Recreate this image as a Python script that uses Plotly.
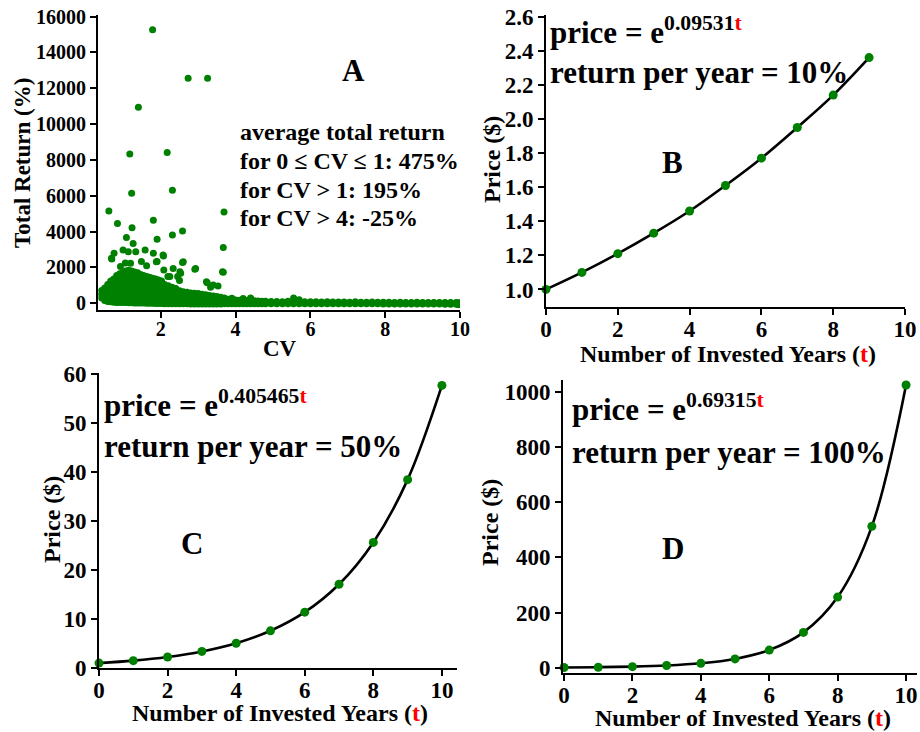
import plotly.graph_objects as go

W, H = 920, 732
GREEN = '#008000'
FONT = 'Liberation Serif'

# ---------------- Panel A data (CV vs Total Return %) ----------------
outlier_cv = [1.78, 2.73, 3.25, 1.40, 1.17, 2.17, 1.22, 2.31, 0.61, 3.69,
              0.84, 1.80, 1.23, 2.58, 1.08, 1.90, 2.31, 1.26, 1.58, 3.67,
              0.75, 1.80, 2.07, 0.69, 1.48, 1.90, 2.58, 2.93, 2.33, 3.67,
              2.53, 2.08, 2.19, 2.50, 3.24, 3.53, 3.33, 1.19, 0.99, 0.92,
              1.33, 0.68, 1.13, 2.06, 2.24, 2.51, 2.60, 3.22, 3.40, 3.65,
              1.88, 2.91, 1.05, 1.62, 2.45]
outlier_ret = [15260, 12560, 12560, 10940, 8330, 8410, 6140, 6310, 5150, 5100,
               4450, 4630, 4210, 4040, 3670, 3570, 3810, 3330, 2980, 3110,
               2790, 2790, 2640, 2470, 2330, 2330, 2270, 1940, 1940, 1730,
               1670, 1860, 1490, 1270, 1150, 970, 890, 2230, 2980, 2050,
               2880, 2510, 2880, 2700, 1490, 1765, 2320, 1205, 1020, 1765,
               2320, 1900, 2250, 2100, 1500]

dense_col_cv = [0.42, 0.50, 0.58, 0.66, 0.74, 0.82, 0.90, 0.98, 1.06, 1.14,
                1.22, 1.30, 1.38, 1.46, 1.54, 1.62, 1.70, 1.78, 1.86, 1.94,
                2.02, 2.10, 2.20, 2.30, 2.40, 2.50, 2.60, 2.70, 2.80, 2.90,
                3.00, 3.10, 3.20, 3.30, 3.40, 3.50, 3.60, 3.70, 3.80, 3.90,
                4.00, 4.10, 4.20, 4.30, 4.40, 4.50, 4.60, 4.70]
dense_col_ret = [
    [300, 500, 720],
    [150, 400, 650, 850],
    [100, 350, 600, 850, 1050],
    [80, 330, 580, 830, 1080, 1250],
    [60, 300, 560, 820, 1080, 1350],
    [50, 300, 560, 820, 1080, 1350, 1550],
    [50, 300, 560, 820, 1080, 1350, 1650],
    [40, 290, 550, 810, 1070, 1330, 1700],
    [40, 290, 550, 810, 1070, 1330, 1600, 1800],
    [30, 280, 540, 800, 1060, 1320, 1580, 1850],
    [30, 280, 540, 800, 1060, 1320, 1580, 1800],
    [20, 270, 530, 790, 1050, 1300, 1550, 1750],
    [20, 270, 530, 790, 1050, 1300, 1550, 1700],
    [10, 260, 520, 780, 1040, 1300, 1600],
    [10, 260, 520, 780, 1040, 1300, 1550],
    [0, 250, 510, 770, 1030, 1280, 1500],
    [0, 250, 500, 760, 1020, 1250, 1450],
    [0, 240, 490, 740, 1000, 1220, 1400],
    [-10, 230, 480, 720, 960, 1200, 1350],
    [-10, 220, 460, 700, 940, 1150, 1300],
    [-10, 210, 440, 670, 900, 1100, 1250],
    [-20, 200, 420, 640, 860, 1050],
    [-20, 190, 400, 610, 820, 980],
    [-20, 180, 380, 580, 780, 900],
    [-30, 170, 360, 550, 720, 820],
    [-30, 160, 340, 520, 700],
    [-30, 150, 320, 490, 650],
    [-30, 140, 300, 460, 620],
    [-40, 130, 290, 440, 580],
    [-40, 120, 280, 420, 560],
    [-40, 110, 260, 400, 540],
    [-40, 100, 240, 380, 500],
    [-40, 90, 220, 350, 470],
    [-40, 80, 200, 330, 440],
    [-40, 70, 190, 310, 400],
    [-40, 60, 180, 290, 380],
    [-40, 50, 160, 260, 340],
    [-30, 50, 150, 240, 300],
    [-30, 40, 130, 220],
    [-30, 40, 120, 200, 280],
    [-30, 30, 110, 180],
    [-30, 30, 100, 170],
    [-30, 30, 100, 160, 260],
    [-20, 30, 90, 150],
    [-20, 30, 90, 150, 300],
    [-20, 30, 80, 140],
    [-20, 30, 80, 130],
    [-20, 30, 70, 120],
]

tail_col_cv = [4.80, 4.95, 5.10, 5.25, 5.40, 5.55, 5.70, 5.85, 6.00, 6.15,
               6.30, 6.45, 6.60, 6.75, 6.90, 7.05, 7.20, 7.35, 7.50, 7.65,
               7.80, 7.95, 8.10, 8.25, 8.40, 8.55, 8.70, 8.85, 9.00, 9.15,
               9.30, 9.45, 9.60, 9.75, 9.90, 9.97]
tail_col_ret = [
    [-20, 60, 110], [-20, 60, 100], [-20, 50, 100], [-20, 50, 90], [-20, 50, 120],
    [-20, 60, 300], [-20, 50, 200], [-20, 50, 90], [-20, 40, 80], [-30, 40, 80],
    [-30, 40, 70], [-30, 40, 80], [-30, 40, 70], [-30, 30, 70], [-30, 40, 70],
    [-30, 30, 60], [-30, 30, 90], [-30, 30, 60], [-30, 30, 60], [-30, 30, 70],
    [-30, 30, 60], [-40, 30, 60], [-40, 20, 60], [-40, 20, 50], [-40, 20, 60],
    [-40, 20, 50], [-40, 20, 50], [-40, 20, 60], [-40, 20, 50], [-40, 20, 50],
    [-40, 10, 50], [-40, 10, 50], [-50, 10, 40], [-50, 10, 40], [-60, 0, 40],
    [-80, -20, 30],
]

# ---------------- Panels B, C, D data ----------------
years_b = [0, 1, 2, 3, 4, 5, 6, 7, 8, 9]
price_b = [1.00, 1.10, 1.21, 1.33, 1.46, 1.61, 1.77, 1.95, 2.14, 2.36]
years_c = [0, 1, 2, 3, 4, 5, 6, 7, 8, 9, 10]
price_c = [1.0, 1.5, 2.25, 3.38, 5.06, 7.59, 11.39, 17.09, 25.63, 38.44, 57.67]
years_d = [0, 1, 2, 3, 4, 5, 6, 7, 8, 9, 10]
price_d = [1, 2, 4, 8, 16, 32, 64, 128, 256, 512, 1024]

ticks_a_x = [2, 4, 6, 8, 10]
ticks_a_y = [0, 2000, 4000, 6000, 8000, 10000, 12000, 14000, 16000]
ticks_b_y = [1.0, 1.2, 1.4, 1.6, 1.8, 2.0, 2.2, 2.4, 2.6]
ticks_years = [0, 2, 4, 6, 8, 10]
ticks_c_y = [0, 10, 20, 30, 40, 50, 60]
ticks_d_y = [0, 200, 400, 600, 800, 1000]

# ---------------- build ----------------
def px(x):
    return x / W

def py(y):
    return 1 - y / H

a_x, a_y = [], []
for c, rets in zip(dense_col_cv, dense_col_ret):
    for r in rets:
        a_x.append(c)
        a_y.append(r)
for c, rets in zip(tail_col_cv, tail_col_ret):
    for r in rets:
        a_x.append(c)
        a_y.append(r)
a_x += outlier_cv
a_y += outlier_ret

fig = go.Figure()
fig.add_trace(go.Scatter(x=a_x, y=a_y, mode='markers', xaxis='x', yaxis='y',
                         marker=dict(size=7, color=GREEN, line=dict(width=0)),
                         showlegend=False, hoverinfo='skip'))
for xs, ys, xa, ya in [(years_b, price_b, 'x2', 'y2'),
                       (years_c, price_c, 'x3', 'y3'),
                       (years_d, price_d, 'x4', 'y4')]:
    fig.add_trace(go.Scatter(x=xs, y=ys, mode='lines+markers', xaxis=xa, yaxis=ya,
                             line=dict(color='black', width=2.6, shape='spline', smoothing=1),
                             marker=dict(size=9, color=GREEN, line=dict(width=0)),
                             cliponaxis=False, showlegend=False, hoverinfo='skip'))


def ax(domain, rng, tickvals, anchor, size, fmt=None, standoff=0):
    d = dict(domain=domain, range=rng, tickvals=tickvals, anchor=anchor,
             automargin=False,
             showline=True, linecolor='black', linewidth=2,
             ticks='outside', ticklen=6, tickwidth=2, tickcolor='black',
             ticklabelstandoff=standoff,
             showgrid=False, zeroline=False,
             tickfont=dict(family=FONT, size=size, color='black', weight='bold'))
    if fmt:
        d['tickformat'] = fmt
    return d

fig.update_layout(
    template='none',
    width=W, height=H, autosize=False,
    margin=dict(l=0, r=0, t=0, b=0, pad=0),
    paper_bgcolor='white', plot_bgcolor='white',
    font=dict(family=FONT, color='black'),
    xaxis=ax([px(98), px(460)], [0.32, 10.0], ticks_a_x, 'y', 20, standoff=-6),
    yaxis=ax([py(310), py(15)], [-375, 16090], ticks_a_y, 'x', 20, 'd'),
    xaxis2=ax([px(546), px(905)], [0, 10], ticks_years, 'y2', 23, standoff=-6),
    yaxis2=ax([py(307), py(15)], [0.897, 2.61], ticks_b_y, 'x2', 23, '.1f'),
    xaxis3=ax([px(99), px(457)], [0, 10.44], ticks_years, 'y3', 23, standoff=-6),
    yaxis3=ax([py(668), py(373)], [0, 60.2], ticks_c_y, 'x3', 23, 'd'),
    xaxis4=ax([px(563), px(917)], [-0.03, 10.32], ticks_years, 'y4', 23, standoff=-6),
    yaxis4=ax([py(673), py(380)], [-19, 1042], ticks_d_y, 'x4', 23, 'd'),
)

anns = []

def txt(text, x, y, size, xanchor='center', angle=0):
    anns.append(dict(text=text, x=px(x), y=py(y), xref='paper', yref='paper',
                     xanchor=xanchor, yanchor='middle', showarrow=False,
                     textangle=angle,
                     font=dict(family=FONT, size=size, color='black')))

RED_T = "<span style='color:#ff0000'>t</span>"
YEARS_TITLE = "<b>Number of Invested Years (" + RED_T + ")</b>"

# Panel A
txt('<b>Total Return (%)</b>', 23, 163, 23, angle=-90)
txt('<b>CV</b>', 280, 348, 23)
txt('<b>A</b>', 353, 70, 31)
txt('<b>average total return</b>', 238, 132, 24, xanchor='left')
txt('<b>for 0 ≤ CV ≤ 1: 475%</b>', 238, 161, 24, xanchor='left')
txt('<b>for CV > 1: 195%</b>', 238, 190, 24, xanchor='left')
txt('<b>for CV > 4: -25%</b>', 238, 218, 24, xanchor='left')

# Panel B
txt('<b>Price ($)</b>', 492, 160, 24, angle=-90)
txt(YEARS_TITLE, 728, 354, 24)
txt('<b>B</b>', 672, 162, 31)
txt('<b>price = e<sup>0.09531' + RED_T + '</sup></b>', 548, 30, 31, xanchor='left')
txt('<b>return per year = 10%</b>', 548, 72, 31, xanchor='left')

# Panel C
txt('<b>Price ($)</b>', 52, 520, 24, angle=-90)
txt(YEARS_TITLE, 280, 713, 24)
txt('<b>C</b>', 192, 543, 31)
txt('<b>price = e<sup>0.405465' + RED_T + '</sup></b>', 102, 404, 31, xanchor='left')
txt('<b>return per year = 50%</b>', 102, 447, 31, xanchor='left')

# Panel D
txt('<b>Price ($)</b>', 490, 523, 24, angle=-90)
txt(YEARS_TITLE, 743, 718, 24)
txt('<b>D</b>', 673, 548, 31)
txt('<b>price = e<sup>0.69315' + RED_T + '</sup></b>', 570, 408, 31, xanchor='left')
txt('<b>return per year = 100%</b>', 570, 452, 31, xanchor='left')

fig.update_layout(annotations=anns)
fig.write_html('out.html', config={'displayModeBar': False},
               post_script="document.body.style.margin='0';document.body.style.overflow='hidden';")
